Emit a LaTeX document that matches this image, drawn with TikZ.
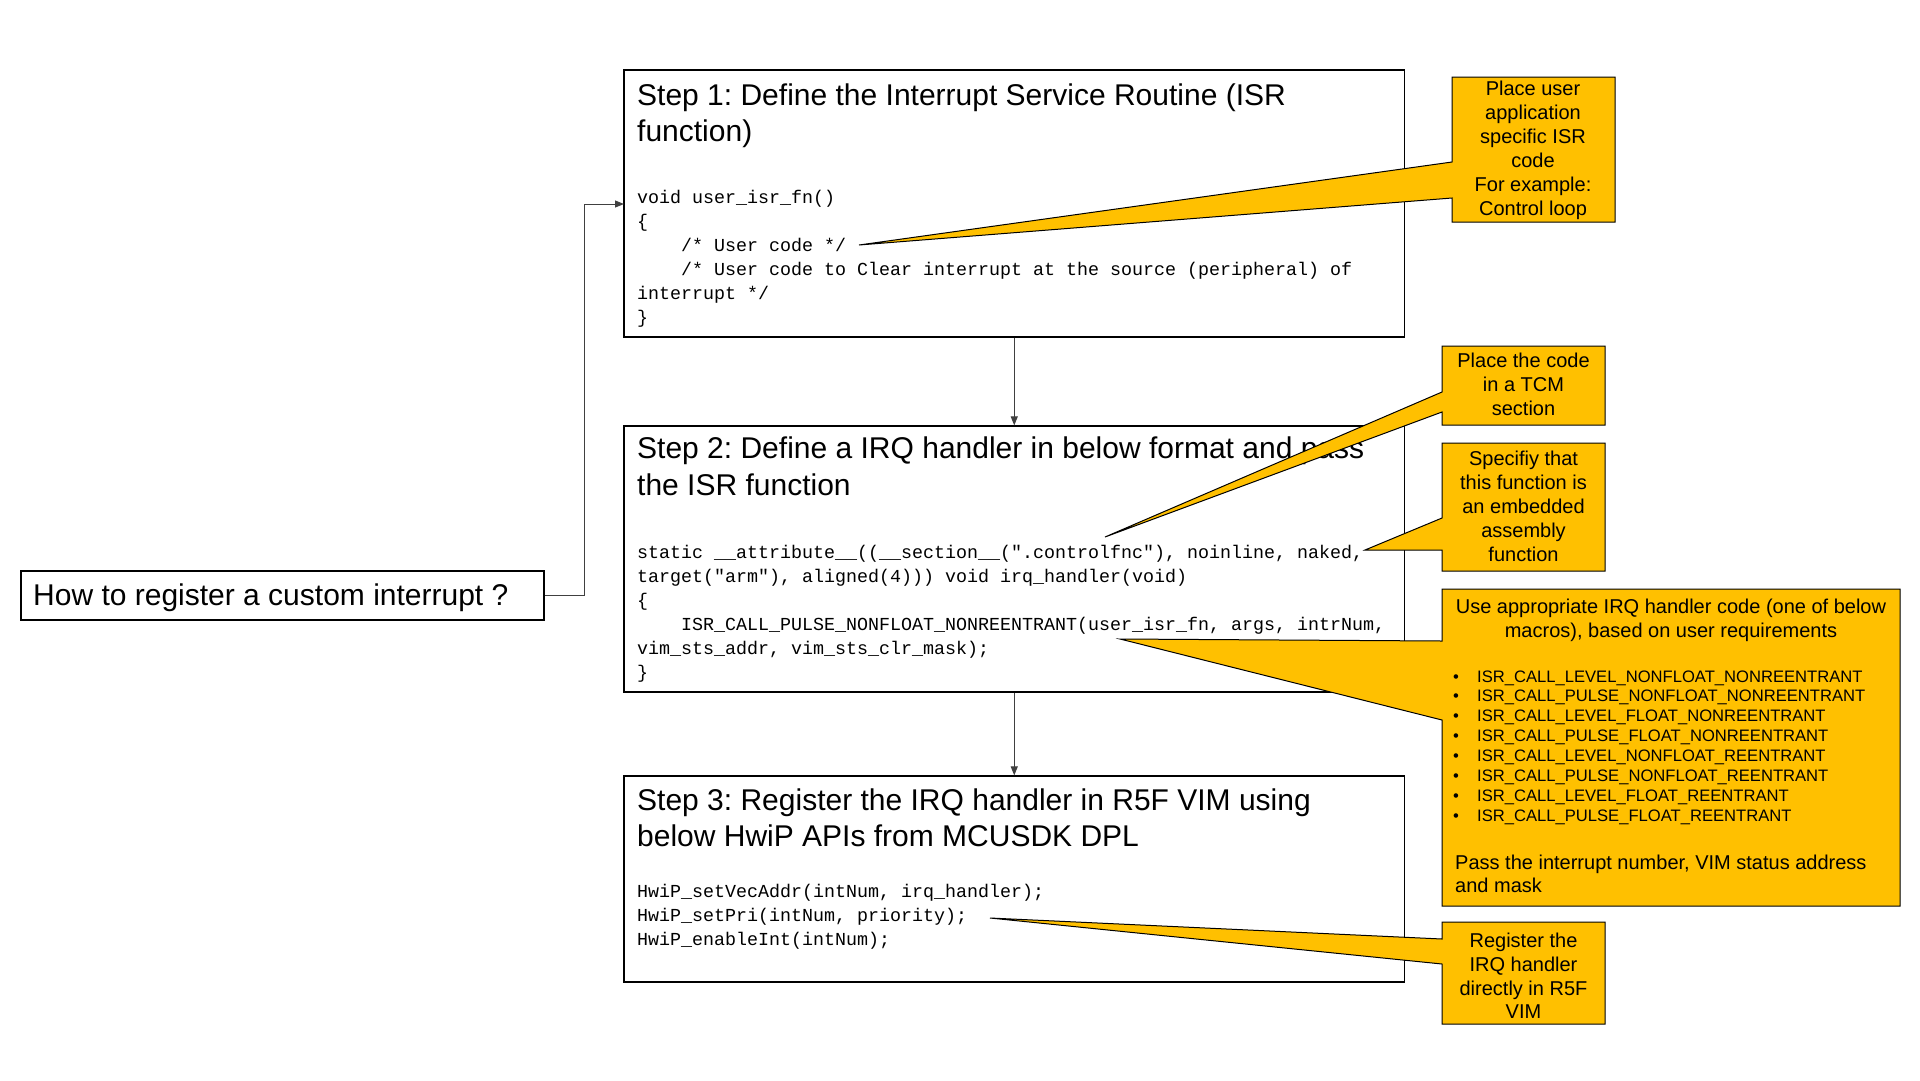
\documentclass[tikz,border=0pt]{standalone}
\usepackage{fontspec}
\setmainfont{Liberation Sans}
\setmonofont{Liberation Mono}
\usetikzlibrary{arrows.meta}
\definecolor{callyellow}{HTML}{FFC000}
\definecolor{conngray}{HTML}{404040}
\frenchspacing
\begin{document}
\begin{tikzpicture}[x=1pt,y=-1pt,
  box/.style={draw=black, line width=1.2pt, fill=white, inner sep=0pt, rectangle},
  ttl/.style={anchor=base west, inner sep=0pt, font=\fontsize{30}{36}\selectfont},
  code/.style={anchor=base west, inner sep=0pt, font=\ttfamily\fontsize{18.33}{24}\selectfont},
  ctxt/.style={anchor=base, inner sep=0pt, font=\fontsize{20}{24}\selectfont},
  ltxt/.style={anchor=base west, inner sep=0pt, font=\fontsize{20}{24}\selectfont},
  btxt/.style={anchor=base west, inner sep=0pt, font=\fontsize{16.6}{20}\selectfont},
  conn/.style={draw=conngray, line width=1pt, -{Triangle[length=9pt,width=7pt]}},
  callout/.style={fill=callyellow, draw=black, line width=1pt, line join=miter}]
\useasboundingbox (0,0) rectangle (1920,1080);

% boxes
\node[box, minimum width=780.5pt, minimum height=267pt] (s1) at (1014.25,203.5) {};
\node[box, minimum width=780.5pt, minimum height=266pt] (s2) at (1014.25,559) {};
\node[box, minimum width=780.5pt, minimum height=206pt] (s3) at (1014.25,879) {};
\node[box, minimum width=523pt, minimum height=49pt] (q) at (282.5,595.5) {};

% question
\node[ttl] (qt) at (33,605) {How to register a custom interrupt ?};

% step 1
\node[ttl] (s1t1) at (637,105) {Step 1: Define the Interrupt Service Routine (ISR};
\node[ttl] (s1t2) at (637,141) {function)};
\node[code] (s1c1) at (637,203) {void user\_isr\_fn()};
\node[code] (s1c2) at (637,227) {\{};
\node[code] (s1c3) at (681,251) {/* User code */};
\node[code] (s1c4) at (681,275) {/* User code to Clear interrupt at the source (peripheral) of};
\node[code] (s1c5) at (637,299) {interrupt */};
\node[code] (s1c6) at (637,323) {\}};

% step 2
\node[ttl] (s2t1) at (637,458) {Step 2: Define a IRQ handler in below format and pass};
\node[ttl] (s2t2) at (637,495) {the ISR function};
\node[code] (s2c1) at (637,558) {static \_\_attribute\_\_((\_\_section\_\_(".controlfnc"), noinline, naked,};
\node[code] (s2c2) at (637,582) {target("arm"), aligned(4))) void irq\_handler(void)};
\node[code] (s2c3) at (637,606) {\{};
\node[code] (s2c4) at (681,630) {ISR\_CALL\_PULSE\_NONFLOAT\_NONREENTRANT(user\_isr\_fn, args, intrNum,};
\node[code] (s2c5) at (637,654) {vim\_sts\_addr, vim\_sts\_clr\_mask);};
\node[code] (s2c6) at (637,678) {\}};

% step 3
\node[ttl] (s3t1) at (637,810) {Step 3: Register the IRQ handler in R5F VIM using};
\node[ttl] (s3t2) at (637,846) {below HwiP APIs from MCUSDK DPL};
\node[code] (s3c1) at (637,897) {HwiP\_setVecAddr(intNum, irq\_handler);};
\node[code] (s3c2) at (637,921) {HwiP\_setPri(intNum, priority);};
\node[code] (s3c3) at (637,945) {HwiP\_enableInt(intNum);};

% connectors
\coordinate (s1in) at (624,204);
\draw[conn] (q.east) -- ++(40,0) |- (s1in);
\draw[conn] (s1.south) -- (s2.north);
\draw[conn] (s2.south) -- (s3.north);

% callouts
\path[callout] (1452,77) -- (1615,77) -- (1615,222) -- (1452,222) -- (1452,198) -- (859,245) -- (1452,162) -- cycle;
\path[callout] (1442,346) -- (1605,346) -- (1605,425) -- (1442,425) -- (1442,412) -- (1105,537) -- (1442,392) -- cycle;
\path[callout] (1442,443) -- (1605,443) -- (1605,571) -- (1442,571) -- (1442,550) -- (1365,550) -- (1442,518) -- cycle;
\path[callout] (1442,589) -- (1900,589) -- (1900,906) -- (1442,906) -- (1442,720) -- (1120,639) -- (1442,641) -- cycle;
\path[callout] (1442,922) -- (1605,922) -- (1605,1024) -- (1442,1024) -- (1442,964) -- (990,918) -- (1442,939) -- cycle;

% callout 1 text
\node[ctxt] (k1a) at (1533,95) {Place user};
\node[ctxt] (k1b) at (1533,119) {application};
\node[ctxt] (k1c) at (1533,143) {specific ISR};
\node[ctxt] (k1d) at (1533,167) {code};
\node[ctxt] (k1e) at (1533,191) {For example:};
\node[ctxt] (k1f) at (1533,215) {Control loop};

% callout 2 text
\node[ctxt] (k2a) at (1523.5,367) {Place the code};
\node[ctxt] (k2b) at (1523.5,391) {in a TCM};
\node[ctxt] (k2c) at (1523.5,415) {section};

% callout 3 text
\node[ctxt] (k3a) at (1523.5,465) {Specifiy that};
\node[ctxt] (k3b) at (1523.5,489) {this function is};
\node[ctxt] (k3c) at (1523.5,513) {an embedded};
\node[ctxt] (k3d) at (1523.5,537) {assembly};
\node[ctxt] (k3e) at (1523.5,561) {function};

% callout 4 text
\node[ctxt] (k4a) at (1671,613) {Use appropriate IRQ handler code (one of below};
\node[ctxt] (k4b) at (1671,637) {macros), based on user requirements};
\foreach \t [count=\i] in {ISR\_CALL\_LEVEL\_NONFLOAT\_NONREENTRANT, ISR\_CALL\_PULSE\_NONFLOAT\_NONREENTRANT, ISR\_CALL\_LEVEL\_FLOAT\_NONREENTRANT, ISR\_CALL\_PULSE\_FLOAT\_NONREENTRANT, ISR\_CALL\_LEVEL\_NONFLOAT\_REENTRANT, ISR\_CALL\_PULSE\_NONFLOAT\_REENTRANT, ISR\_CALL\_LEVEL\_FLOAT\_REENTRANT, ISR\_CALL\_PULSE\_FLOAT\_REENTRANT}{
  \node[btxt] (kb\i) at (1453,{682+19.9*(\i-1)}) {•};
  \node[btxt] (kl\i) at (1477,{682+19.9*(\i-1)}) {\t};
}
\node[ltxt] (k4c) at (1455,869) {Pass the interrupt number, VIM status address};
\node[ltxt] (k4d) at (1455,892) {and mask};

% callout 5 text
\node[ctxt] (k5a) at (1523.5,947) {Register the};
\node[ctxt] (k5b) at (1523.5,971) {IRQ handler};
\node[ctxt] (k5c) at (1523.5,995) {directly in R5F};
\node[ctxt] (k5d) at (1523.5,1018) {VIM};
\end{tikzpicture}
\end{document}
